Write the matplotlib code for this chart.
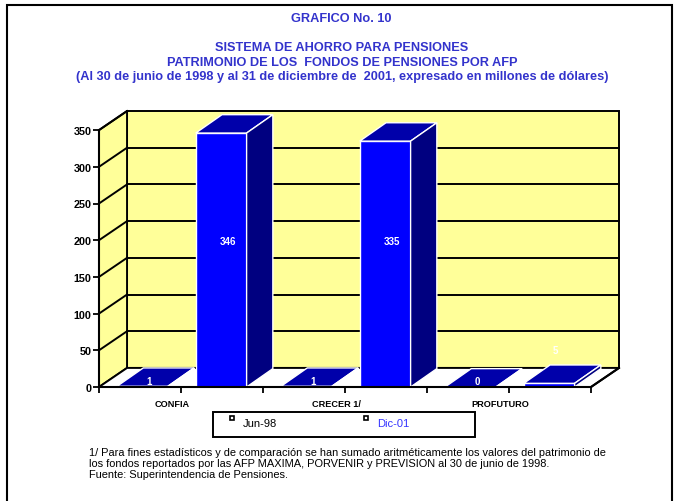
import matplotlib
matplotlib.use("Agg")
import matplotlib.pyplot as plt
from matplotlib.patches import Polygon, Rectangle
from matplotlib.lines import Line2D

plt.rcParams['font.family'] = ['Liberation Sans', 'DejaVu Sans']

categories = ['CONFIA', 'CRECER 1/', 'PROFUTURO']
jun98 = [1, 1, 0]
dic01 = [346, 335, 5]
series_names = ['Jun-98', 'Dic-01']
yticks = [0, 50, 100, 150, 200, 250, 300, 350]

title_lines = ['SISTEMA DE AHORRO PARA PENSIONES',
               'PATRIMONIO DE LOS  FONDOS DE PENSIONES POR AFP',
               '(Al 30 de junio de 1998 y al 31 de diciembre de  2001, expresado en millones de dólares)']
notes = ['1/ Para fines estadísticos y de comparación se han sumado aritméticamente los valores del patrimonio de',
         'los fondos reportados por las AFP MAXIMA, PORVENIR y PREVISION al 30 de junio de 1998.',
         'Fuente: Superintendencia de Pensiones.']

W, H = 676, 502
YELLOW = '#FFFF99'
FRONT = '#0000FF'
TOP = '#0000AA'
SIDE = '#000080'
TITLE_BLUE = '#3333CC'
LW = 1.4

# 3d look: depth offsets in data units
DX, DY = 0.171, 26
BDX, BDY = 0.16, 25
BW = 0.31
OFFS = [0.11, 0.59]

fig = plt.figure(figsize=(W / 100, H / 100), dpi=100)

# axes placed so that x=0 -> px 99, 1 category = 164 px; v=0 -> px 388, 1 unit = 0.734 px
x0px, xs = 99, 164
y0px, ys = 388, 0.734
xlim = (-0.5, 3.3)
ylim = (-20, 390)
left = x0px + xlim[0] * xs
right = x0px + xlim[1] * xs
bottom = y0px - ylim[0] * ys
top = y0px - ylim[1] * ys
ax = fig.add_axes([left / W, 1 - bottom / H, (right - left) / W, (bottom - top) / H])
ax.set_xlim(*xlim)
ax.set_ylim(*ylim)
ax.patch.set_alpha(0)

n = len(categories)
vmax = yticks[-1]

# walls and floor
ax.add_patch(Polygon([(DX, DY), (n + DX, DY), (n + DX, vmax + DY), (DX, vmax + DY)],
                     closed=True, facecolor=YELLOW, edgecolor='black', lw=LW, zorder=1))
ax.add_patch(Polygon([(0, 0), (DX, DY), (DX, vmax + DY), (0, vmax)],
                     closed=True, facecolor=YELLOW, edgecolor='black', lw=LW, zorder=1))
ax.add_patch(Polygon([(0, 0), (n, 0), (n + DX, DY), (DX, DY)],
                     closed=True, facecolor='white', edgecolor='black', lw=LW, zorder=1))
for v in yticks[1:-1]:
    ax.plot([DX, n + DX], [v + DY, v + DY], color='black', lw=LW, zorder=2)
for v in yticks[1:]:
    ax.plot([0, DX], [v, v + DY], color='black', lw=LW, zorder=2)


def bar3d(xs_, vals):
    ax.bar(xs_, vals, width=BW, align='edge', color=FRONT, edgecolor='white', lw=1.0, zorder=4)
    for x, v in zip(xs_, vals):
        ax.add_patch(Polygon([(x, v), (x + BW, v), (x + BW + BDX, v + BDY), (x + BDX, v + BDY)],
                             closed=True, facecolor=TOP, edgecolor='white', lw=1.0, zorder=4))
        ax.add_patch(Polygon([(x + BW, 0), (x + BW + BDX, BDY), (x + BW + BDX, v + BDY), (x + BW, v)],
                             closed=True, facecolor=SIDE, edgecolor='white', lw=1.0, zorder=4))


for k, vals in enumerate([jun98, dic01]):
    xs_ = [i + OFFS[k] for i in range(n)]
    bar3d(xs_, vals)
    for x, v in zip(xs_, vals):
        if v > 100:
            ly = 199
        elif v > 2:
            ly = v + 45
        else:
            ly = v + BDY * 0.3
        ax.text(x + BW / 2 + BDX * 0.25, ly, str(v), color='white', fontsize=7,
                fontweight='bold', ha='center', va='center', zorder=6)

# axes lines
for side in ['top', 'right']:
    ax.spines[side].set_visible(False)
ax.spines['left'].set_position(('data', 0))
ax.spines['left'].set_bounds(0, vmax)
ax.spines['bottom'].set_position(('data', 0))
ax.spines['bottom'].set_bounds(0, n)
for side in ['left', 'bottom']:
    ax.spines[side].set_linewidth(1.5)
    ax.spines[side].set_zorder(7)
ax.plot([n, n + DX], [0, DY], color='black', lw=1.5, zorder=7)

ax.set_yticks(yticks)
ax.set_yticklabels([str(t) for t in yticks], fontsize=7.8, fontweight='bold')
xt = [i * 0.5 for i in range(2 * n + 1)]
ax.set_xticks(xt)
ax.set_xticklabels([])
ax.tick_params(axis='y', direction='out', length=4.3, width=1.3, pad=1)
ax.tick_params(axis='x', direction='out', length=4.3, width=1.3)
for i, cat in enumerate(categories):
    ax.text(i + 0.5 - 0.052, -22, cat, ha='center', va='center', fontsize=6.6,
            fontweight='bold', clip_on=False)

# titles
fig.text(341 / W, 1 - 19 / H, 'GRAFICO No. 10', ha='center', va='center', color=TITLE_BLUE,
         fontsize=9.2, fontweight='bold')
for i, line in enumerate(title_lines):
    fig.text(342 / W, 1 - (48 + 14.7 * i) / H, line, ha='center', va='center', color=TITLE_BLUE,
             fontsize=9.2, fontweight='bold')

# legend box
fig.add_artist(Rectangle((213 / W, 1 - 438 / H), 262 / W, 25 / H, transform=fig.transFigure,
                         facecolor='none', edgecolor='black', lw=1.4))
for (mx, tx), name, col in zip([(232, 243), (366, 377)], series_names, ['black', '#3333FF']):
    fig.add_artist(Line2D([mx / W], [1 - 419 / H], marker='s', markersize=3.5, markerfacecolor='white',
                          markeredgecolor='black', markeredgewidth=1.2, transform=fig.transFigure))
    fig.text(tx / W, 1 - 424 / H, name, ha='left', va='center', fontsize=8, color=col)

# notes
for i, line in enumerate(notes):
    fig.text(89 / W, 1 - (453 + 11 * i) / H, line, ha='left', va='center', fontsize=7.9)

# outer frame
fig.add_artist(Rectangle((7 / W, -0.05), 665 / W, 1 - 6 / H + 0.05, transform=fig.transFigure,
                         facecolor='none', edgecolor='black', lw=1.5))

fig.savefig('out.png', dpi=100)
